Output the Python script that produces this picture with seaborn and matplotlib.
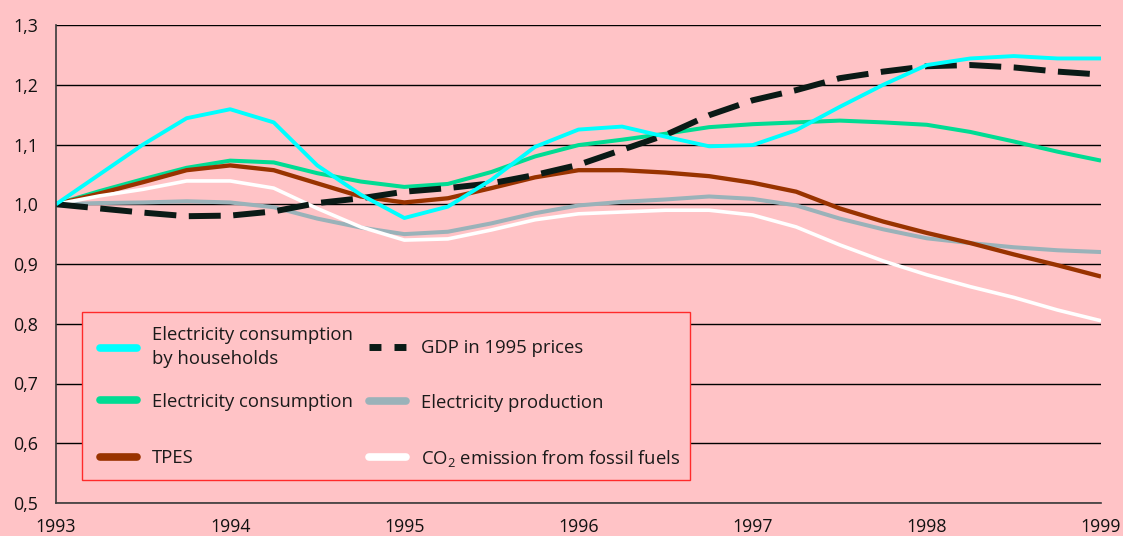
import numpy as np
import pandas as pd
import matplotlib
matplotlib.use("Agg")
import matplotlib.pyplot as plt
from matplotlib.lines import Line2D
from matplotlib.legend import Legend
from matplotlib.patches import Rectangle
import seaborn as sns

# Quarterly index values, 1993 = 1.0
years = np.linspace(1993.0, 1999.0, 25)

households = [1.000, 1.050, 1.100, 1.144, 1.159, 1.137, 1.065, 1.016, 0.977,
              0.996, 1.041, 1.096, 1.125, 1.130, 1.113, 1.097, 1.099, 1.124,
              1.163, 1.200, 1.233, 1.244, 1.248, 1.244, 1.244]
consumption = [1.000, 1.022, 1.042, 1.061, 1.073, 1.070, 1.052, 1.038, 1.029,
               1.034, 1.054, 1.080, 1.099, 1.108, 1.118, 1.129, 1.134, 1.137,
               1.140, 1.137, 1.133, 1.121, 1.105, 1.088, 1.073]
tpes = [1.000, 1.018, 1.037, 1.057, 1.065, 1.057, 1.035, 1.013, 1.003,
        1.010, 1.027, 1.045, 1.057, 1.057, 1.053, 1.047, 1.036, 1.021,
        0.993, 0.971, 0.952, 0.935, 0.916, 0.898, 0.879]
production = [1.000, 1.002, 1.003, 1.005, 1.003, 0.995, 0.976, 0.961, 0.950,
              0.954, 0.968, 0.985, 0.998, 1.004, 1.008, 1.013, 1.009, 0.998,
              0.976, 0.958, 0.943, 0.935, 0.928, 0.923, 0.920]
co2 = [1.000, 1.014, 1.025, 1.039, 1.039, 1.027, 0.993, 0.962, 0.940,
       0.942, 0.957, 0.974, 0.984, 0.987, 0.990, 0.990, 0.982, 0.962,
       0.932, 0.905, 0.882, 0.862, 0.844, 0.823, 0.805]
gdp = [1.000, 0.993, 0.986, 0.980, 0.981, 0.988, 1.002, 1.010, 1.021,
       1.027, 1.035, 1.049, 1.066, 1.091, 1.116, 1.149, 1.174, 1.191,
       1.211, 1.222, 1.231, 1.233, 1.229, 1.222, 1.217]

labels = {
    "households": "Electricity consumption\nby households",
    "consumption": "Electricity consumption",
    "tpes": "TPES",
    "gdp": "GDP in 1995 prices",
    "production": "Electricity production",
    "co2": "CO$_2$ emission from fossil fuels",
}

year_ticks = [1993, 1994, 1995, 1996, 1997, 1998, 1999]
value_ticks = [0.5, 0.6, 0.7, 0.8, 0.9, 1.0, 1.1, 1.2, 1.3]
value_tick_labels = ["0,5", "0,6", "0,7", "0,8", "0,9", "1,0", "1,1", "1,2", "1,3"]

BG = "#FFC3C6"
colors = {
    "households": "#00FFFF",
    "consumption": "#00DC93",
    "tpes": "#993300",
    "production": "#9AB2B9",
    "co2": "#FFFFFF",
    "gdp": "#0A1A16",
}

sns.set_style("white")
plt.rcParams["font.family"] = ["Open Sans", "DejaVu Sans"]
plt.rcParams["mathtext.fontset"] = "custom"
plt.rcParams["mathtext.rm"] = "Open Sans"
plt.rcParams["mathtext.it"] = "Open Sans"
plt.rcParams["lines.scale_dashes"] = False

df = pd.DataFrame({
    "year": np.tile(years, 6),
    "value": households + consumption + tpes + production + co2 + gdp,
    "series": np.repeat(["households", "consumption", "tpes",
                         "production", "co2", "gdp"], len(years)),
})

W, H = 1123, 536
fig = plt.figure(figsize=(W / 100, H / 100), dpi=100)
fig.patch.set_facecolor(BG)
ax = fig.add_axes([56 / W, 1 - 503 / H, 1045 / W, 478 / H])
ax.set_facecolor(BG)

draw_order = [("production", 2.9, "-"), ("consumption", 2.9, "-"),
              ("tpes", 3.1, "-"), ("co2", 2.6, "-"),
              ("gdp", 4.3, (0, (23, 9))), ("households", 2.8, "-")]
for key, lw, ls in draw_order:
    sub = df[df["series"] == key]
    sns.lineplot(data=sub, x="year", y="value", ax=ax, color=colors[key],
                 linewidth=lw, linestyle=ls, legend=False,
                 solid_capstyle="butt", dash_capstyle="butt")

ax.set_xlim(1993, 1999)
ax.set_ylim(0.5, 1.3)
ax.set_xticks(year_ticks)
ax.set_xticklabels([str(y) for y in year_ticks])
ax.set_yticks(value_ticks)
ax.set_yticklabels(value_tick_labels)
ax.set_xlabel("")
ax.set_ylabel("")

ax.set_axisbelow(True)
ax.grid(axis="y", color="black", linewidth=1.0)
ax.grid(axis="x", visible=False)
for side in ("top", "right"):
    ax.spines[side].set_visible(False)
for side in ("left", "bottom"):
    ax.spines[side].set_color("#3a3a3a")
    ax.spines[side].set_linewidth(1.2)

ax.tick_params(axis="y", direction="out", length=6, width=1.0, color="black",
               pad=7, labelsize=12.8, labelcolor="#111111")
ax.tick_params(axis="x", direction="out", length=6, width=1.0, color="#3a3a3a",
               pad=4.5, labelsize=12.8, labelcolor="#111111")

# Legend panel
ax.add_patch(Rectangle((0.0249, 0.0481), 0.5818, 0.3515, transform=ax.transAxes,
                       facecolor=BG, edgecolor="#FF2A2A", linewidth=1.0,
                       zorder=3))


def handle(key):
    if key == "gdp":
        return Line2D([], [], color=colors[key], linewidth=5,
                      linestyle=(0, (8.6, 9.4)), dash_capstyle="butt")
    return Line2D([], [], color=colors[key], linewidth=5.5,
                  solid_capstyle="round")


def to_axes(px, py):
    return ((px - 56) / 1045, (503 - py) / 478)


fs = 13.3
common = dict(loc="center left", frameon=False, fontsize=fs, borderpad=0,
              borderaxespad=0, handlelength=2.0, handletextpad=0.81,
              labelcolor="#1a1a1a")


def add_legend(keys, anchor, spacing):
    leg = Legend(ax, [handle(k) for k in keys], [labels[k] for k in keys],
                 bbox_to_anchor=to_axes(*anchor),
                 bbox_transform=ax.transAxes, labelspacing=spacing, **common)
    leg.set_zorder(4)
    for t in leg.get_texts():
        t.set_linespacing(1.45)
    ax.add_artist(leg)
    return leg


add_legend(["households"], (100, 347), 1.0)
add_legend(["consumption", "tpes"], (100, 430), 2.1)
add_legend(["gdp", "production", "co2"], (369, 404), 1.95)

fig.savefig("out.png", dpi=100, facecolor=BG)
